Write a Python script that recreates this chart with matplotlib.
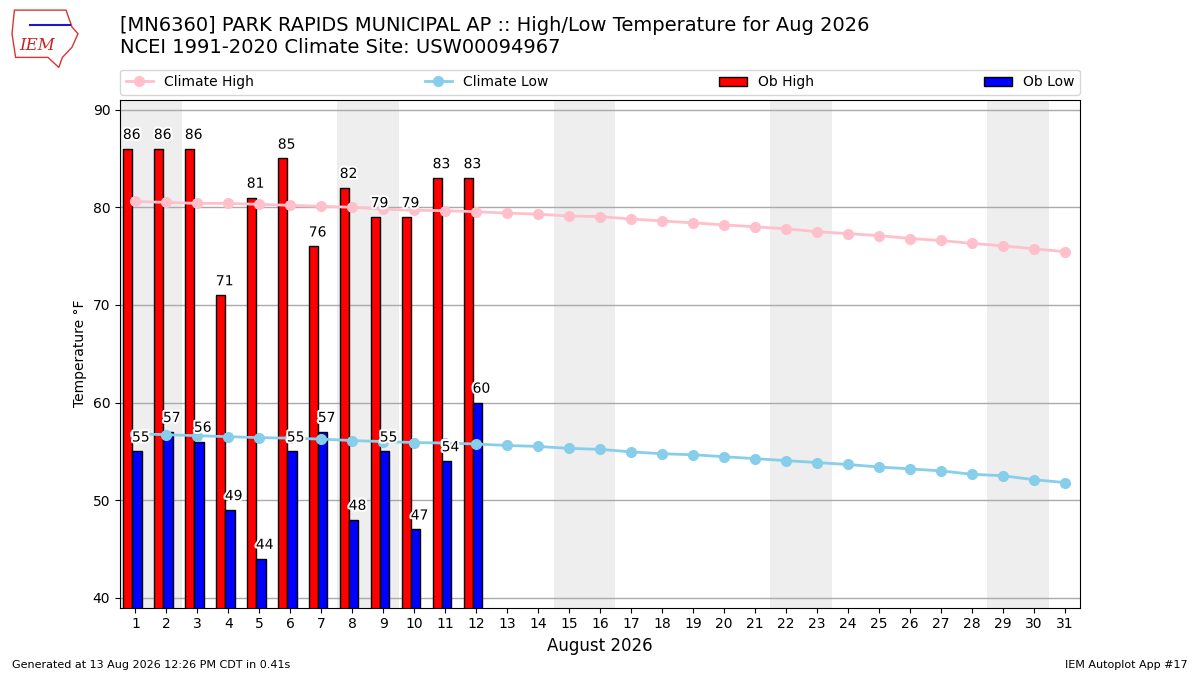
import numpy as np
import matplotlib
matplotlib.use("Agg")
import matplotlib.pyplot as plt
import matplotlib.patheffects as pe
from matplotlib.patches import Polygon

# observed values (Aug 2026, days 1-12)
obs_days = list(range(1, 13))
ob_high = [86, 86, 86, 71, 81, 85, 76, 82, 79, 79, 83, 83]
ob_low = [55, 57, 56, 49, 44, 55, 57, 48, 55, 47, 54, 60]

# NCEI 1991-2020 climatology, days 1-31
clim_days = list(range(1, 32))
clim_high = [80.6, 80.5, 80.4, 80.4, 80.3, 80.2, 80.1, 80.0, 79.8, 79.7,
             79.65, 79.55, 79.4, 79.3, 79.1, 79.05, 78.8, 78.6, 78.4, 78.2,
             78.0, 77.8, 77.5, 77.3, 77.1, 76.8, 76.6, 76.3, 76.05, 75.75, 75.45]
clim_low = [56.8, 56.7, 56.6, 56.5, 56.4, 56.35, 56.25, 56.1, 56.0, 55.9,
            55.85, 55.75, 55.6, 55.5, 55.3, 55.2, 54.95, 54.75, 54.65, 54.45,
            54.25, 54.05, 53.85, 53.65, 53.4, 53.2, 53.0, 52.65, 52.5, 52.1, 51.8]

weekends = [(1, 2), (8, 9), (15, 16), (22, 23), (29, 30)]

title1 = "[MN6360] PARK RAPIDS MUNICIPAL AP :: High/Low Temperature for Aug 2026"
title2 = "NCEI 1991-2020 Climate Site: USW00094967"

fig = plt.figure(figsize=(12, 6.75), dpi=100)
ax = fig.add_axes([0.1, 0.1, 0.8, 0.752])

for a, b in weekends:
    ax.axvspan(a - 0.5, b + 0.5, color="#eeeeee", zorder=0, lw=0)

ax.plot(clim_days, clim_high, color="pink", marker="o", ms=7, lw=2,
        label="Climate High", zorder=3)
ax.plot(clim_days, clim_low, color="skyblue", marker="o", ms=7, lw=2,
        label="Climate Low", zorder=3)

x = np.array(obs_days)
ax.bar(x - 0.4, ob_high, width=0.3, align="edge", color="red",
       edgecolor="k", lw=1, label="Ob High", zorder=2)
ax.bar(x - 0.1, ob_low, width=0.3, align="edge", color="blue",
       edgecolor="k", lw=1, label="Ob Low", zorder=2)

halo = [pe.withStroke(linewidth=3, foreground="white")]
for d, h, l in zip(obs_days, ob_high, ob_low):
    ax.text(d - 0.12, h + 0.7, "%d" % h, ha="center", va="bottom", fontsize=10,
            zorder=4, path_effects=halo)
    ax.text(d + 0.17, l + 0.7, "%d" % l, ha="center", va="bottom", fontsize=10,
            zorder=4, path_effects=halo)

ax.set_xlim(0.5, 31.5)
ax.set_ylim(39, 91)
ax.set_xticks(clim_days)
ax.set_yticks(range(40, 91, 10))
ax.yaxis.grid(True, color="#aaaaaa", lw=1)
ax.set_axisbelow(True)
ax.set_xlabel("August 2026", fontsize=12)
ax.set_ylabel("Temperature \u00b0F")

ax.legend(loc="lower left", bbox_to_anchor=(0, 1.01, 1, 0.05), ncol=4,
          mode="expand", borderaxespad=0, fontsize=10)

fig.text(0.1, 0.948, title1, fontsize=14, va="bottom")
fig.text(0.1, 0.915, title2, fontsize=14, va="bottom")

# rough IEM logo
iowa = Polygon([[0.012, 0.985], [0.055, 0.985], [0.06, 0.96], [0.065, 0.95],
                [0.06, 0.93], [0.052, 0.915], [0.049, 0.9], [0.04, 0.915],
                [0.013, 0.915], [0.01, 0.95]], closed=True, fill=False,
               ec="#dd3333", lw=1, transform=fig.transFigure)
fig.patches.append(iowa)
fig.text(0.031, 0.933, "IEM", color="#cc2222", fontsize=12, style="italic",
         family="DejaVu Serif", ha="center", va="center")
fig.add_artist(plt.Line2D([0.025, 0.058], [0.963, 0.963], color="#1a1acc",
                          lw=1.5, transform=fig.transFigure))

fig.text(0.01, 0.01, "Generated at 13 Aug 2026 12:26 PM CDT in 0.41s", fontsize=8)
fig.text(0.99, 0.01, "IEM Autoplot App #17", fontsize=8, ha="right")

fig.savefig("out.png", dpi=100)
